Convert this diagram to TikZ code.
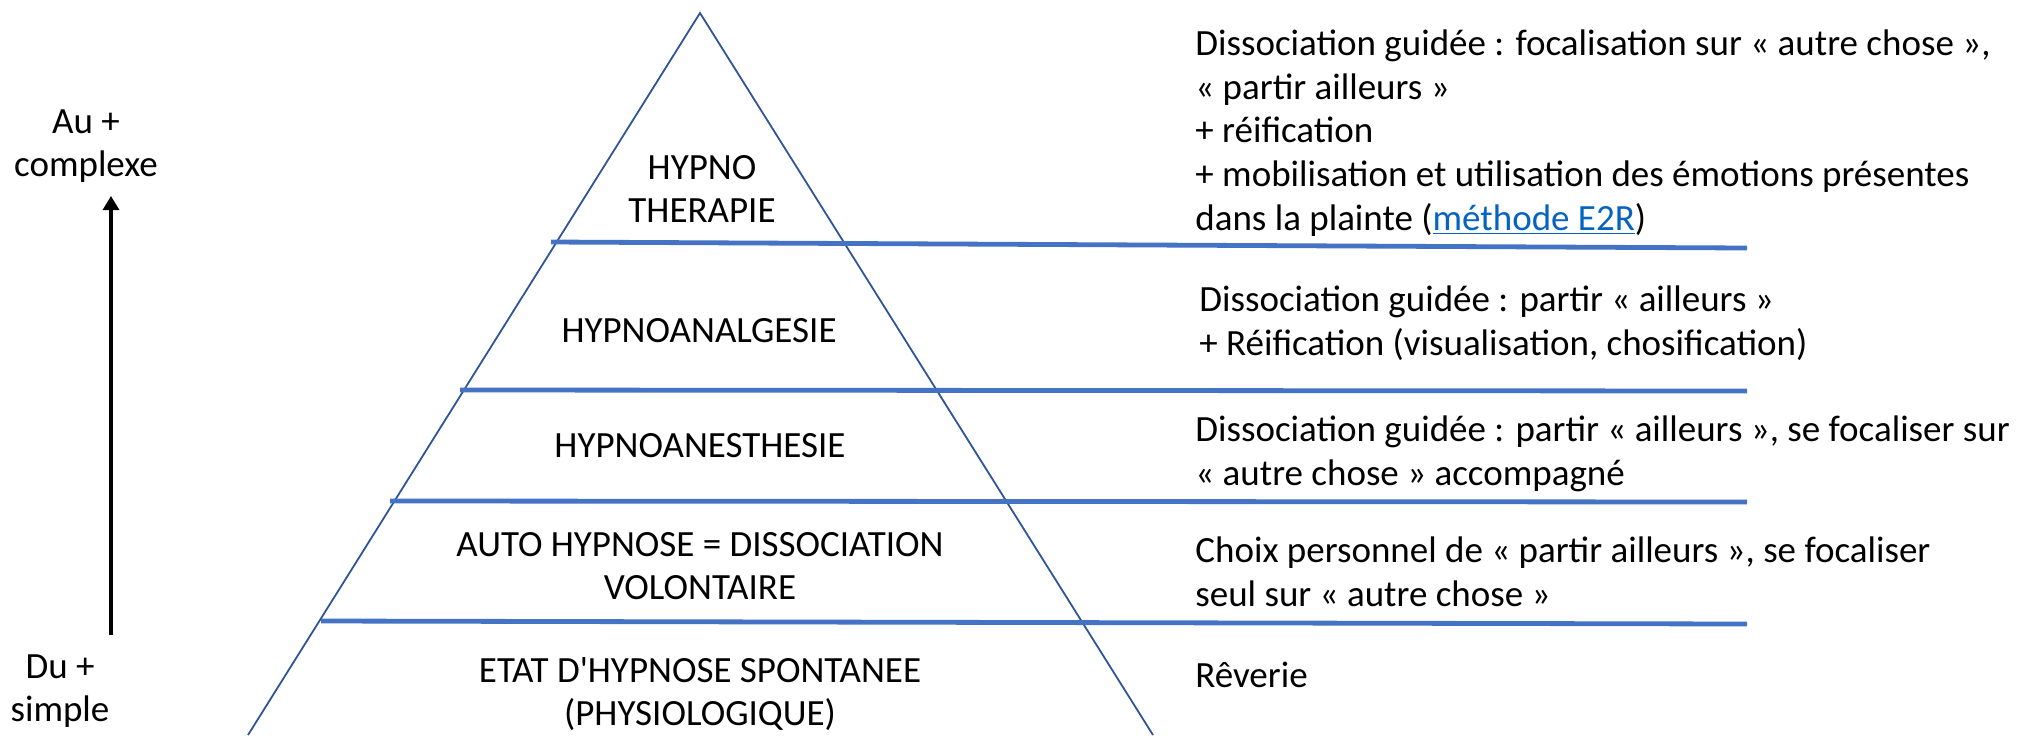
\documentclass[tikz,border=0pt]{standalone}
\usepackage{fontspec}
\setmainfont{Carlito}[Ligatures=TeXOff]
\usetikzlibrary{arrows.meta}
\definecolor{bandblue}{HTML}{4472C4}
\definecolor{triblue}{HTML}{2F5597}
\definecolor{linkblue}{HTML}{0563C1}
\tikzset{
  px/.style={x=0.5pt,y=-0.5pt},
  txt/.style={inner sep=0pt, font=\fontsize{18.5}{21.8}\selectfont},
  lvl/.style={txt, align=center, anchor=center},
  desc/.style={txt, align=left, anchor=west},
  band/.style={draw=bandblue, line width=2.4pt},
  tri/.style={draw=triblue, line width=0.9pt},
  axis/.style={draw=black, line width=1.6pt, -{Triangle[width=8pt,length=7pt]}}
}
\begin{document}
\begin{tikzpicture}[px]
\useasboundingbox (0,0) rectangle (2019,735);
% triangle
\coordinate (apex) at (700,13);
\coordinate (bl) at (248,735);
\coordinate (br) at (1153,735);
\draw[tri] (bl) -- (apex) -- (br);
% bands
\coordinate (b1l) at (551,242); \coordinate (b1r) at (1747,248);
\coordinate (b2l) at (460,390); \coordinate (b2r) at (1747,391);
\coordinate (b3l) at (390,501); \coordinate (b3r) at (1747,502);
\coordinate (b4l) at (321,621); \coordinate (b4r) at (1747,624);
\draw[band] (b1l) -- (b1r);
\draw[band] (b2l) -- (b2r);
\draw[band] (b3l) -- (b3r);
\draw[band] (b4l) -- (b4r);
% level labels
\node[lvl] (l5) at (702,189) {HYPNO\\THERAPIE};
\node[lvl] (l4) at (699,331) {HYPNOANALGESIE};
\node[lvl] (l3) at (700,446) {HYPNOANESTHESIE};
\node[lvl] (l2) at (700,566) {AUTO HYPNOSE = DISSOCIATION\\VOLONTAIRE};
\node[lvl] (l1) at (700,694) {ETAT D'HYPNOSE SPONTANEE\\(PHYSIOLOGIQUE)};
% descriptions
\node[desc] (d5) at (1195,133) {Dissociation guidée : focalisation sur « autre chose »,\\« partir ailleurs »\\+ réification\\+ mobilisation et utilisation des émotions présentes\\dans la plainte (\textcolor{linkblue}{\underline{méthode E2R}})};
\node[desc] (d4) at (1199,323) {Dissociation guidée : partir « ailleurs »\\+ Réification (visualisation, chosification)};
\node[desc] (d3) at (1195,454) {Dissociation guidée : partir « ailleurs », se focaliser sur\\« autre chose » accompagné};
\node[desc] (d2) at (1195,572) {Choix personnel de « partir ailleurs », se focaliser\\seul sur « autre chose »};
\node[desc] (d1) at (1195,675) {Rêverie};
% axis
\node[lvl] (top) at (86,146) {Au +\\complexe};
\node[lvl] (bot) at (60,691) {Du +\\simple};
\coordinate (ab) at (111,635);
\coordinate (at) at (111,196);
\draw[axis] (ab) -- (at);
\end{tikzpicture}
\end{document}
